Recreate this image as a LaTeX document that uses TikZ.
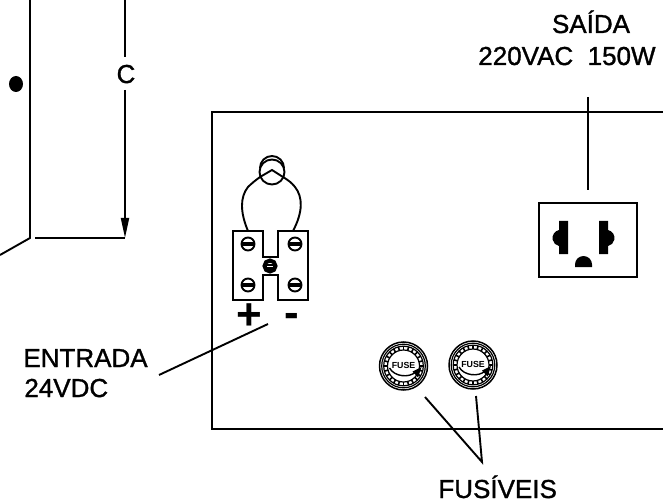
\documentclass[tikz,border=0pt]{standalone}
\usepackage{fontspec}
\setmainfont{Liberation Sans}
\newfontfamily\lblfont{Liberation Sans}[FakeBold=1.2]
\usetikzlibrary{arrows.meta,shapes.geometric}
\tikzset{
  line/.style={line width=0.95pt,black},
  lbl/.style={font=\lblfont\fontsize{13}{15}\selectfont,inner sep=0pt,text=black},
  pics/screw/.style={code={
    \draw[line width=0.95pt,fill=white] (0,0) circle (6.5);
    \draw[line width=0.95pt] (-6.5,-1.3) -- (6.5,-1.3) (-6.5,1.3) -- (6.5,1.3);
  }},
  pics/fuse/.style={code={
    \draw[line width=0.75pt] (0,0) circle (24);
    \draw[line width=0.6pt] (0,0) circle (21.8);
    \draw[line width=0.6pt] (0,0) circle (19.8);
    \draw[line width=0.6pt] (0,0) circle (16);
    \foreach \a in {0,15,...,345} \draw[line width=0.8pt] (\a:16) -- (\a:19.8);
    \node[font=\bfseries\fontsize{4.4}{5}\selectfont,inner sep=0pt] at (0,-1) {FUSE};
    \draw[line width=0.7pt] (-14,2) .. controls (-9,11) and (6,12) .. (12,6);
    \fill (18,1) -- (9,5.5) -- (14.5,11.5) -- cycle;
  }}
}
\begin{document}
\begin{tikzpicture}[x=0.5pt,y=-0.5pt]
\useasboundingbox (0,0) rectangle (663,502);
% left assembly
\coordinate (ltop) at (30,0);
\coordinate (lcorner) at (30,238);
\coordinate (lfree) at (0,255);
\coordinate (hstart) at (35,238);
\coordinate (cend) at (125,238);
\coordinate (ctop) at (125,0);
\coordinate (cgapa) at (125,57);
\coordinate (cgapb) at (125,90);
\draw[line] (ltop) -- (lcorner) -- (lfree);
\draw[line] (hstart) -- (cend);
\node[lbl,anchor=base] (c) at (126,83) {C};
\draw[line] (ctop) -- (cgapa);
\draw[line,-{Triangle[length=10pt,width=4pt]}] (cgapb) -- (cend);
\node[fill=black,draw=none,ellipse,inner sep=0pt,minimum width=7pt,minimum height=8pt] (dot) at (16,84) {};
% panel
\coordinate (pa) at (663,112);
\coordinate (pb) at (212,112);
\coordinate (pc) at (212,429);
\coordinate (pd) at (663,429);
\draw[line] (pa) -- (pb) -- (pc) -- (pd);
% receptacle
\node[draw,line width=1pt,minimum width=49pt,minimum height=37pt,inner sep=0pt] (recept) at (588,240) {};
\fill (568,221) -- (559,221) -- (559,230) arc[start angle=-102,end angle=-258,radius=8.2] -- (559,254) -- (568,254) -- cycle;
\fill (599,221) -- (608,221) -- (608,230) arc[start angle=-78,end angle=78,radius=8.2] -- (608,254) -- (599,254) -- cycle;
\fill (575,267) -- (592,267) -- (592,264.5) arc[start angle=0,end angle=-180,radius=8.5] -- cycle;
% saida
\node[lbl,anchor=base] (saida) at (591,33) {SAÍDA};
\node[lbl,anchor=base east] (saida2) at (656,65) {220VAC\ \ 150W};
\coordinate (stop) at (588,97);
\coordinate (sbot) at (588,190);
\draw[line] (stop) -- (sbot);
% terminal block
\draw[line width=1.1pt] (233,231) -- (263,231) -- (263,257) -- (278,257) -- (278,231) -- (308,231) -- (308,300) -- (278,300) -- (278,275) -- (263,275) -- (263,300) -- (233,300) -- cycle;
\pic at (248,244) {screw};
\pic at (295,244) {screw};
\pic at (248,285) {screw};
\pic at (295,285) {screw};
\draw[line width=2pt] (270,266) circle (5.5);
\draw[line width=1pt] (264,265) -- (276,265) (264,267.5) -- (276,267.5);
% lamp
\draw[line] (272,172) circle (12.5);
\draw[line] (260,168) arc[start angle=180,end angle=360,radius=12];
\draw[line] (248,231) .. controls (240,212) and (240,197) .. (248,187) .. controls (252,183) and (256,180) .. (260,177) -- (272,170) -- (283,177) .. controls (288,180) and (292,183) .. (295,187) .. controls (303,197) and (303,212) .. (293,231);
\node[font=\bfseries\fontsize{22}{24}\selectfont,inner sep=0pt] (plus) at (249,316.5) {+};
\node[font=\bfseries\fontsize{22}{24}\selectfont,inner sep=0pt] (minus) at (292,320) {-};
% entrada
\node[lbl,anchor=base west] (ent1) at (23,367) {ENTRADA};
\node[lbl,anchor=base west] (ent2) at (24,397) {24VDC};
\coordinate (ea) at (159,375);
\coordinate (eb) at (268,324);
\draw[line] (ea) -- (eb);
% fuses
\pic at (403.5,366) {fuse};
\pic at (473,365) {fuse};
\coordinate (fa) at (425,397);
\coordinate (fb) at (476,396);
\coordinate (fc) at (482,462);
\draw[line] (fa) -- (fc) -- (fb);
\node[lbl,anchor=base west] (fus) at (438,498) {FUSÍVEIS};
\end{tikzpicture}
\end{document}
